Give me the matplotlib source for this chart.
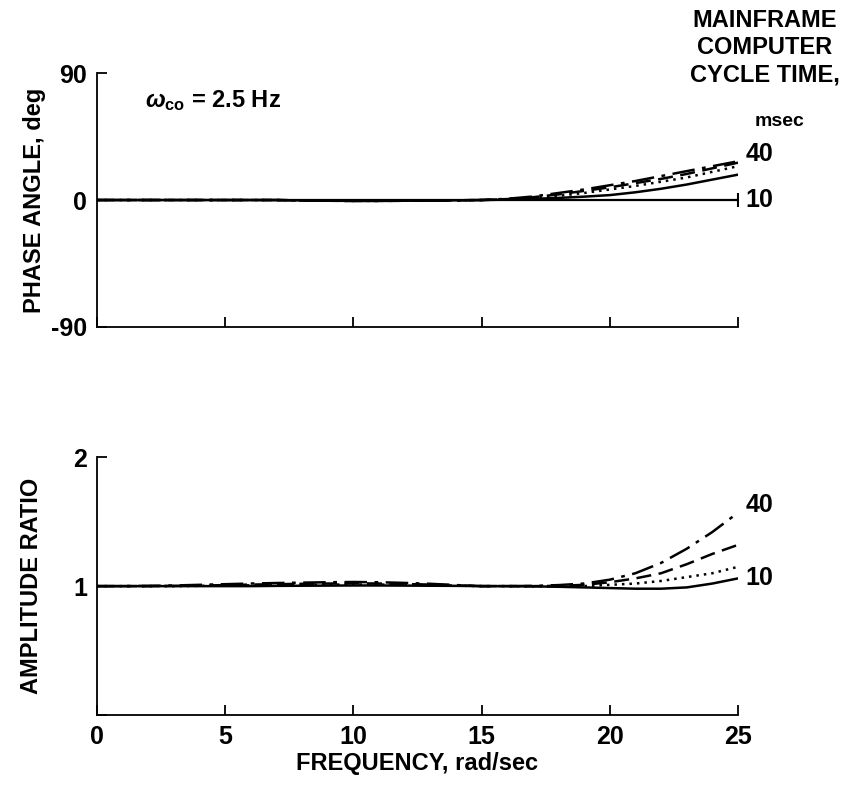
import numpy as np
import matplotlib
matplotlib.use("Agg")
import matplotlib.pyplot as plt

plt.rcParams['font.family'] = ['Liberation Sans', 'DejaVu Sans']
plt.rcParams['font.weight'] = 'bold'
plt.rcParams['axes.labelweight'] = 'bold'
plt.rcParams['mathtext.fontset'] = 'custom'
plt.rcParams['mathtext.rm'] = 'Liberation Sans:bold'
plt.rcParams['mathtext.bf'] = 'Liberation Sans:bold'
plt.rcParams['mathtext.it'] = 'Liberation Sans:italic'

# frequency, rad/sec
freq = np.arange(0, 26, 1)

# phase angle, deg, for cycle times 10, 20, 30, 40 msec
phase_10 = [0, 0, 0, 0, 0, 0, 0, 0, -0.3, -0.5, -0.6, -0.6, -0.5, -0.4, -0.2, 0,
            0.3, 0.8, 1.5, 2.4, 3.5, 5.5, 8, 11, 14.5, 18]
phase_20 = [0, 0, 0, 0, 0, 0, 0, 0, -0.3, -0.5, -0.6, -0.6, -0.5, -0.4, -0.2, 0,
            0.5, 1.5, 3, 5, 7.5, 10, 13, 16, 20, 24]
phase_30 = [0, 0, 0, 0, 0, 0, 0, 0, -0.3, -0.5, -0.6, -0.6, -0.5, -0.4, -0.2, 0,
            0.7, 2, 4, 6.5, 9, 12, 15, 18.5, 22.5, 26.5]
phase_40 = [0, 0, 0, 0, 0, 0, 0, 0, -0.3, -0.5, -0.6, -0.6, -0.5, -0.4, -0.2, 0,
            0.9, 2.5, 5, 7.5, 10.5, 13.5, 17, 20.5, 24, 27.5]

# amplitude ratio
amp_10 = [1, 1, 1, 1, 1, 1, 1, 1.002, 1.003, 1.004, 1.005, 1.005, 1.004, 1.003, 1.002, 1,
          1.0, 0.998, 0.995, 0.99, 0.985, 0.98, 0.98, 0.99, 1.02, 1.06]
amp_20 = [1, 1, 1, 1, 1.002, 1.004, 1.006, 1.008, 1.01, 1.012, 1.012, 1.012, 1.01, 1.008, 1.004, 1,
          1.0, 0.998, 0.998, 1.0, 1.01, 1.02, 1.04, 1.07, 1.1, 1.15]
amp_30 = [1, 1, 1, 1.002, 1.004, 1.008, 1.012, 1.015, 1.018, 1.02, 1.022, 1.02, 1.016, 1.012, 1.006, 1,
          1.0, 1.0, 1.002, 1.01, 1.03, 1.06, 1.1, 1.17, 1.25, 1.32]
amp_40 = [1, 1, 1.002, 1.005, 1.01, 1.015, 1.02, 1.024, 1.027, 1.03, 1.032, 1.03, 1.025, 1.018, 1.008, 1,
          1.0, 1.002, 1.008, 1.02, 1.05, 1.1, 1.18, 1.29, 1.42, 1.57]

styles = [
    dict(ls='-'),
    dict(ls=(0, (1, 2))),
    dict(ls=(0, (6, 3))),
    dict(ls=(0, (9, 3, 1.5, 3))),
]

fig = plt.figure(figsize=(8.45, 7.86), dpi=100)
ax1 = fig.add_axes([0.1148, 0.584, 0.7586, 0.323])
ax2 = fig.add_axes([0.1148, 0.0903, 0.7586, 0.328])

for ax in (ax1, ax2):
    ax.spines['top'].set_visible(False)
    ax.spines['right'].set_visible(False)
    for s in ('left', 'bottom'):
        ax.spines[s].set_linewidth(1.3)
    ax.set_xlim(0, 25)
    ax.set_xticks([0, 5, 10, 15, 20, 25])
    ax.tick_params(direction='in', length=7, width=1.3, labelsize=18, pad=7)

# phase panel
ax1.axhline(0, color='black', lw=1.6)
ax1.plot(freq[-1], 0, marker='|', ms=10, mew=1.5, color='black')
for y, st in zip([phase_10, phase_20, phase_30, phase_40], styles):
    ax1.plot(freq, y, color='black', lw=1.8, **st)
ax1.set_ylim(-90, 90)
ax1.set_yticks([-90, 0, 90])
ax1.set_yticklabels(['-90', '0', '90'])
ax1.set_xticklabels([])
ax1.set_ylabel('PHASE ANGLE, deg', fontsize=17, labelpad=4)
ax1.text(0.075, 0.89, r'$\omega_{\mathbf{co}}$ = 2.5 Hz', transform=ax1.transAxes,
         fontsize=17, va='center')
ax1.text(25.3, phase_40[-1] + 5, '40', fontsize=18, va='center')
ax1.text(25.3, 0, '10', fontsize=18, va='center')

# amplitude panel
for y, st in zip([amp_10, amp_20, amp_30, amp_40], styles):
    ax2.plot(freq, y, color='black', lw=1.8, **st)
ax2.set_ylim(0, 2)
ax2.set_yticks([0, 1, 2])
ax2.set_yticklabels(['', '1', '2'])
ax2.set_ylabel('AMPLITUDE RATIO', fontsize=17, labelpad=22)
ax2.set_xlabel('FREQUENCY, rad/sec', fontsize=17, labelpad=2)
ax2.text(25.3, amp_40[-1] + 0.06, '40', fontsize=18, va='center')
ax2.text(25.3, amp_10[-1], '10', fontsize=18, va='center')

fig.text(0.905, 0.988, 'MAINFRAME\nCOMPUTER\nCYCLE TIME,', ha='center', va='top',
         fontsize=17, linespacing=1.22)
fig.text(0.922, 0.845, 'msec', ha='center', va='center', fontsize=14)

fig.savefig('out.png', dpi=100)
